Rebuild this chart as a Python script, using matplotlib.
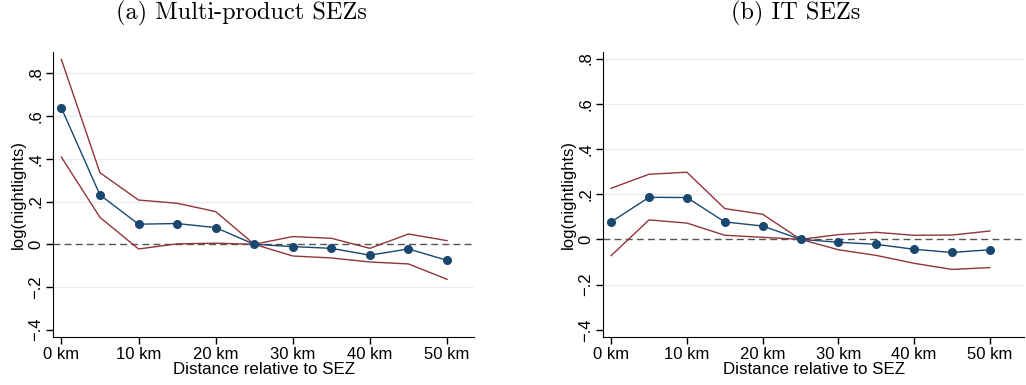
import matplotlib.pyplot as plt
import numpy as np

plt.rcParams['font.family'] = ['Liberation Sans', 'DejaVu Sans']

dist = [0, 5, 10, 15, 20, 25, 30, 35, 40, 45, 50]
x_ticks = [0, 10, 20, 30, 40, 50]
x_labels = ['0 km', '10 km', '20 km', '30 km', '40 km', '50 km']
y_ticks = [-0.4, -0.2, 0, 0.2, 0.4, 0.6, 0.8]
y_labels = ['\u2212.4', '\u2212.2', '0', '.2', '.4', '.6', '.8']

# (a) multi-product zones
multi_coef = [0.638, 0.231, 0.094, 0.097, 0.078, 0.0, -0.011, -0.019, -0.051, -0.022, -0.075]
multi_hi = [0.865, 0.335, 0.207, 0.192, 0.153, 0.0, 0.036, 0.028, -0.019, 0.048, 0.017]
multi_lo = [0.408, 0.126, -0.022, 0.002, 0.005, 0.0, -0.055, -0.064, -0.083, -0.092, -0.164]

# (b) IT zones
it_coef = [0.077, 0.186, 0.185, 0.077, 0.059, 0.0, -0.013, -0.022, -0.044, -0.058, -0.046]
it_hi = [0.226, 0.288, 0.297, 0.136, 0.111, 0.0, 0.021, 0.031, 0.018, 0.019, 0.037]
it_lo = [-0.072, 0.086, 0.072, 0.018, 0.009, 0.0, -0.046, -0.071, -0.106, -0.133, -0.125]

navy = '#1a476f'
maroon = '#90353b'

fig = plt.figure(figsize=(10.26, 3.85), dpi=100)
ax_a = fig.add_axes([0.052, 0.1247, 0.410, 0.7403])
ax_b = fig.add_axes([0.588, 0.1247, 0.410, 0.7403])

panels = [
    (ax_a, '(a) Multi-product SEZs', 0.2356, multi_coef, multi_hi, multi_lo, (-1.04, 53.5), (-0.434, 0.90)),
    (ax_b, '(b) IT SEZs', 0.7758, it_coef, it_hi, it_lo, (-1.04, 54.5), (-0.432, 0.829)),
]

for ax, title, tx, coef, hi, lo, xlim, ylim in panels:
    for g in [-0.2, 0.2, 0.4, 0.6, 0.8]:
        ax.axhline(g, color='#e6eff1', lw=1, zorder=0)
    ax.axhline(0, color='#555555', lw=1, ls=(0, (5, 3)), zorder=1)
    ax.plot(dist, hi, color=maroon, lw=1, zorder=2)
    ax.plot(dist, lo, color=maroon, lw=1, zorder=2)
    ax.plot(dist, coef, color=navy, lw=1, marker='o', ms=5.5, zorder=3)
    ax.set_xlim(*xlim)
    ax.set_ylim(*ylim)
    ax.set_xticks(x_ticks)
    ax.set_xticklabels(x_labels, fontsize=12)
    ax.set_yticks(y_ticks)
    ax.set_yticklabels(y_labels, fontsize=12, rotation=90, va='center')
    ax.tick_params(direction='out', length=5, width=1, pad=2)
    for side in ['top', 'right']:
        ax.spines[side].set_visible(False)
    ax.set_xlabel('Distance relative to SEZ', fontsize=12.2, labelpad=0)
    ax.set_ylabel('log(nightlights)', fontsize=12, labelpad=2)
    fig.text(tx, 1 - 13 / 385, title, fontsize=17.5, family='cmr10',
             ha='center', va='center')

fig.savefig('out.png', dpi=100)
